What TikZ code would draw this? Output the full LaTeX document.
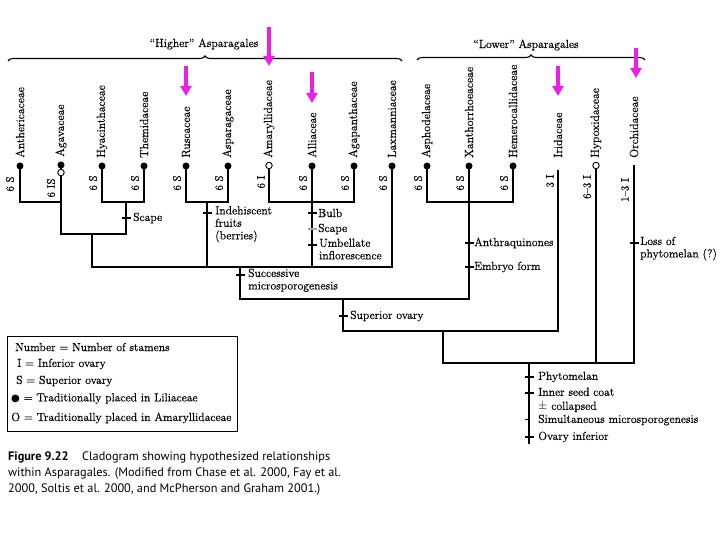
\documentclass[tikz,border=0pt]{standalone}
\usepackage{fontspec}
\setmainfont{Latin Modern Roman}[FakeBold=0.5]
\setsansfont{PT Sans}
\newfontfamily\symfont{DejaVu Sans}
\usetikzlibrary{decorations.pathreplacing,arrows.meta}
\definecolor{mag}{RGB}{235,30,235}
\tikzset{
  tree/.style={line width=1.8pt, line cap=rect},
  thin tree/.style={line width=1.4pt, line cap=rect},
  taxon/.style={rotate=90, anchor=west, inner sep=0pt, font=\fontsize{11.8}{12}\selectfont},
  stam/.style={rotate=90, anchor=center, inner sep=0pt, font=\fontsize{10.8}{11}\selectfont},
  fdot/.style={circle, fill=black, inner sep=0pt, minimum size=7pt},
  odot/.style={circle, draw=black, fill=white, line width=0.9pt, inner sep=0pt, minimum size=6.5pt},
  tickmark/.style={line width=1.2pt},
  lbl/.style={anchor=west, inner sep=0pt, font=\fontsize{11.7}{12.5}\selectfont, align=left},
  arrowm/.style={draw=mag, line width=3.6pt, -{Triangle[width=11pt,length=10pt]}},
  bracket/.style={line width=1.1pt, decorate, decoration={brace, amplitude=5pt}},
  caption/.style={anchor=west, inner sep=0pt, font=\sffamily\fontsize{12.3}{16}\selectfont, align=left}
}
\begin{document}
\begin{tikzpicture}[x=1pt,y=-1pt]
\useasboundingbox (0,0) rectangle (720,540);
\fill[white] (0,0) rectangle (720,540);

% brackets
\coordinate (hb1) at (8,61); \coordinate (hb2) at (402,61);
\coordinate (lb1) at (417,60); \coordinate (lb2) at (645,60);
\draw[bracket] (hb1) -- (hb2);
\draw[bracket] (lb1) -- (lb2);
\node[inner sep=0pt, font=\fontsize{11.8}{12}\selectfont] (higher) at (204,44) {“Higher” Asparagales};
\node[inner sep=0pt, font=\fontsize{11.8}{12}\selectfont] (lower) at (526,45) {“Lower” Asparagales};

% taxa
\node[taxon] (t1) at (20,158) {Anthericaceae};
\node[taxon] (t2) at (61,157) {Agavaceae};
\node[taxon] (t3) at (102,158) {Hyacinthaceae};
\node[taxon] (t4) at (144,158) {Themidaceae};
\node[taxon] (t5) at (186,158) {Ruscaceae};
\node[taxon] (t6) at (228,158) {Asparagaceae};
\node[taxon] (t7) at (269,158) {Amaryllidaceae};
\node[taxon] (t8) at (312,158) {Alliaceae};
\node[taxon] (t9) at (354,158) {Agapanthaceae};
\node[taxon] (t10) at (392,158) {Laxmanniaceae};
\node[taxon] (t11) at (427,158) {Asphodelaceae};
\node[taxon] (t12) at (469,158) {Xanthorrhoeaceae};
\node[taxon] (t13) at (513,158) {Hemerocallidaceae};
\node[taxon] (t14) at (558,158) {Iridaceae};
\node[taxon] (t15) at (596,158) {Hypoxidaceae};
\node[taxon] (t16) at (634,158) {Orchidaceae};

% stamen labels
\node[stam] (s1) at (10,184) {6 S};
\node[stam] (s2) at (51,188) {6 IS};
\node[stam] (s3) at (93,183) {6 S};
\node[stam] (s4) at (135,183) {6 S};
\node[stam] (s5) at (177,183) {6 S};
\node[stam] (s6) at (219,183) {6 S};
\node[stam] (s7) at (261,182) {6 I};
\node[stam] (s8) at (303,183) {6 S};
\node[stam] (s9) at (345,183) {6 S};
\node[stam] (s10) at (383,183) {6 S};
\node[stam] (s11) at (418,183) {6 S};
\node[stam] (s12) at (460,183) {6 S};
\node[stam] (s13) at (504,183) {6 S};
\node[stam] (s14) at (550,181) {3 I};
\node[stam] (s15) at (587,187) {6--3 I};
\node[stam] (s16) at (625,190) {1--3 I};

% junction coordinates
\coordinate (j1) at (61,202);  \coordinate (k1) at (61,234);
\coordinate (j2) at (126,202); \coordinate (k2) at (126,234);
\coordinate (j3) at (92,234);  \coordinate (k3) at (92,267);
\coordinate (j4) at (207,202); \coordinate (k4) at (207,267);
\coordinate (j5) at (312,202); \coordinate (k5) at (312,267);
\coordinate (k6) at (392,267);
\coordinate (j6) at (240,267); \coordinate (k7) at (240,299);
\coordinate (j7) at (469,202); \coordinate (k8) at (469,299);
\coordinate (j8) at (343,299); \coordinate (k9) at (343,331);
\coordinate (k10) at (558,331);
\coordinate (j9) at (443,331); \coordinate (k11) at (443,363);
\coordinate (k12) at (596,363); \coordinate (k13) at (634,363);
\coordinate (j10) at (529,363); \coordinate (root) at (529,443);
\coordinate (irtop) at (558,171);
\coordinate (ortop) at (634,166);

% tree lines
\draw[tree] (20,166) |- (j1) -- (61,166);
\draw[tree] (j1) -- (k1);
\draw[tree] (102,166) |- (j2) -| (144,166);
\draw[tree] (j2) -- (k2);
\draw[tree] (k1) -- (k2);
\draw[thin tree] (j3) -- (k3);
\draw[tree] (186,166) |- (j4) -| (228,166);
\draw[tree] (j4) -- (k4);
\draw[tree] (269,166) |- (j5) -| (354,166);
\draw[tree] (312,166) -- (j5) -- (k5);
\draw[tree] (392,166) -- (k6);
\draw[thin tree] (k3) -- (k6);
\draw[tree] (j6) -- (k7);
\draw[tree] (427,166) |- (j7) -| (513,166);
\draw[tree] (469,166) -- (j7) -- (k8);
\draw[tree] (k7) -- (k8);
\draw[tree] (j8) -- (k9);
\draw[tree] (k9) -- (k10);
\draw[tree] (irtop) -- (k10);
\draw[tree] (j9) -- (k11);
\draw[tree] (k11) -- (k13);
\draw[tree] (596,166) -- (k12);
\draw[tree] (ortop) -- (k13);
\draw[tree] (j10) -- (root);

% dots
\node[fdot] (d1) at (20,166) {};
\node[fdot] (d2) at (61,165) {};
\node[odot] (o2) at (61,172.5) {};
\node[fdot] (d3) at (102,166) {};
\node[fdot] (d4) at (144,166) {};
\node[fdot] (d5) at (186,166) {};
\node[fdot] (d6) at (228,166) {};
\node[odot] (o7) at (269,165.5) {};
\node[fdot] (d8) at (312,166) {};
\node[fdot] (d9) at (354,166) {};
\node[fdot] (d10) at (392,166) {};
\node[fdot] (d11) at (427,166) {};
\node[fdot] (d12) at (469,166) {};
\node[fdot] (d13) at (513,166) {};
\node[odot] (o15) at (596,165.5) {};

% character ticks
\coordinate (c1) at (126,218);
\coordinate (c2) at (207,213);
\coordinate (c3) at (312,213);
\coordinate (c4) at (312,229);
\coordinate (c5) at (312,245);
\coordinate (c6) at (240,275);
\coordinate (c7) at (343,316);
\coordinate (c8) at (469,243);
\coordinate (c9) at (469,267);
\coordinate (c10) at (634,243);
\coordinate (c11) at (529,377);
\coordinate (c12) at (529,393);
\coordinate (c13) at (529,419);
\coordinate (c14) at (529,437);
\foreach \c in {c1,c2,c3,c5,c6,c7,c8,c9,c10,c11,c12,c14}
  \draw[tickmark] ([xshift=-4.5pt]\c) -- ([xshift=4.5pt]\c);
\draw[tickmark, gray!70] ([xshift=-4.5pt]c4) -- ([xshift=4.5pt]c4);
\draw[tickmark, line width=0.9pt] ([xshift=-4pt]c13) -- ([xshift=1pt]c13);

\node[lbl] (l1) at (133,218) {Scape};
\node[lbl, anchor=north west] (l2) at (215,206) {Indehiscent\\fruits\\(berries)};
\node[lbl] (l3) at (318,213) {Bulb};
\node[lbl] (l4) at (318,229) {Scape};
\node[lbl, anchor=north west] (l5) at (319,238.5) {Umbellate\\inflorescence};
\node[lbl, anchor=north west] (l6) at (248,268.5) {Successive\\microsporogenesis};
\node[lbl] (l7) at (350,316) {Superior ovary};
\node[lbl] (l8) at (474,243) {Anthraquinones};
\node[lbl] (l9) at (474,267) {Embryo form};
\node[lbl, anchor=north west] (l10) at (640,236.5) {Loss of\\phytomelan (?)};
\node[lbl] (l11) at (538,377) {Phytomelan};
\node[lbl, anchor=north west, font=\fontsize{11.7}{14}\selectfont] (l12) at (538,387.5) {Inner seed coat\\$\pm$ collapsed};
\node[lbl] (l13) at (538,420) {Simultaneous microsporogenesis};
\node[lbl] (l14) at (538,437) {Ovary inferior};

% magenta arrows
\coordinate (a1s) at (269,27);  \coordinate (a1e) at (269,66);
\coordinate (a2s) at (186,66);  \coordinate (a2e) at (186,96);
\coordinate (a3s) at (312,72);  \coordinate (a3e) at (312,103);
\coordinate (a4s) at (558,66);  \coordinate (a4e) at (558,96);
\coordinate (a5s) at (636,48);  \coordinate (a5e) at (636,78);
\draw[arrowm] (a1s) -- (a1e);
\draw[arrowm] (a2s) -- (a2e);
\draw[arrowm] (a3s) -- (a3e);
\draw[arrowm] (a4s) -- (a4e);
\draw[arrowm] (a5s) -- (a5e);

% legend
\node[draw, line width=1.4pt, minimum width=230pt, minimum height=95pt, anchor=north west, inner sep=0pt] (legend) at (7,336) {};
\node[lbl] (g1) at (15,347) {Number = Number of stamens};
\node[lbl] (g2) at (17,364) {I = Inferior ovary};
\node[lbl] (g3) at (16,381) {S = Superior ovary};
\node[lbl] (g4) at (11,398.5) {{\symfont\fontsize{10}{11}\selectfont ●} = Traditionally placed in Liliaceae};
\node[lbl] (g5) at (11,418) {O = Traditionally placed in Amaryllidaceae};

% caption
\node[caption] (cap1) at (8,457) {\textbf{Figure 9.22}\hspace{1.1em}Cladogram showing hypothesized relationships};
\node[caption] (cap2) at (8,473) {within Asparagales. (Modified from Chase et al. 2000, Fay et al.};
\node[caption] (cap3) at (8,489) {2000, Soltis et al. 2000, and McPherson and Graham 2001.)};
\end{tikzpicture}
\end{document}
